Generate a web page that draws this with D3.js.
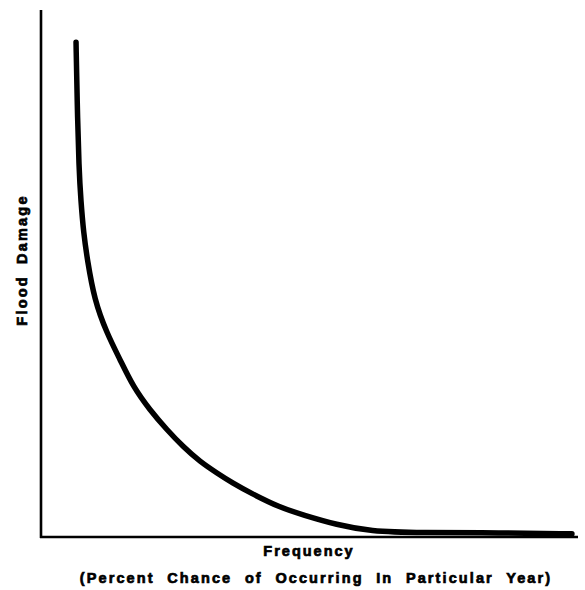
<!DOCTYPE html>
<html><head><meta charset="utf-8">
<script src="https://cdn.jsdelivr.net/npm/d3@7"></script>
<style>html,body{margin:0;padding:0;background:#fff;}</style>
</head><body>
<script>
const frequency = [6.5,6.7,7.05,7.4,7.9,8.6,9.9,12.2,14.7,17.1,20.2,23.4,26.4,29.5,32.7,35.6,38.8,44.3,48.6,54.9,61.0,70.3,85.2,98.5];
const damage    = [93.9,82.9,69.6,63.8,57.7,52.6,45.0,38.7,33.6,28.5,24.1,20.3,17.1,14.3,12.1,10.2,8.4,5.6,4.2,2.3,1.1,0.8,0.8,0.6];
const yTitle = "Flood Damage";
const xTitle = "Frequency";
const xSubtitle = "(Percent Chance of Occurring In Particular Year)";

const W = 585, H = 590;
const svg = d3.select("body").append("svg").attr("width", W).attr("height", H);
const x = d3.scaleLinear().domain([0,100]).range([41,580]);
const y = d3.scaleLinear().domain([0,100]).range([537,10]);

// axes
svg.append("line").attr("x1",x(0)).attr("x2",x(0)).attr("y1",y(0)+1).attr("y2",y(100))
  .attr("stroke","#000").attr("stroke-width",2.6);
svg.append("line").attr("x1",x(0)-1).attr("x2",x(100)-2).attr("y1",y(0)).attr("y2",y(0))
  .attr("stroke","#000").attr("stroke-width",2.6);

const pts = frequency.map((f,i)=>[f,damage[i]]);
const line = d3.line().x(d=>x(d[0])).y(d=>y(d[1])).curve(d3.curveBasis);
svg.append("path").attr("d", line(pts)).attr("fill","none").attr("stroke","#000")
  .attr("stroke-width",5.5).attr("stroke-linecap","round").attr("stroke-linejoin","round");

const font = "'Liberation Sans', Arial, sans-serif";
function lbl(sel){
  return sel.attr("font-family",font).attr("font-weight","bold").attr("font-size",14.5)
    .attr("fill","#000").attr("stroke","#000").attr("stroke-width",0.7).attr("text-anchor","middle");
}
lbl(svg.append("text")).attr("transform","translate(27,260) rotate(-90)")
  .attr("letter-spacing",2.2).attr("word-spacing",5).text(yTitle);
lbl(svg.append("text")).attr("x",309).attr("y",556)
  .attr("letter-spacing",2).text(xTitle);
lbl(svg.append("text")).attr("x",316).attr("y",583)
  .attr("letter-spacing",2.1).attr("word-spacing",6.5).text(xSubtitle);
</script>
</body></html>
